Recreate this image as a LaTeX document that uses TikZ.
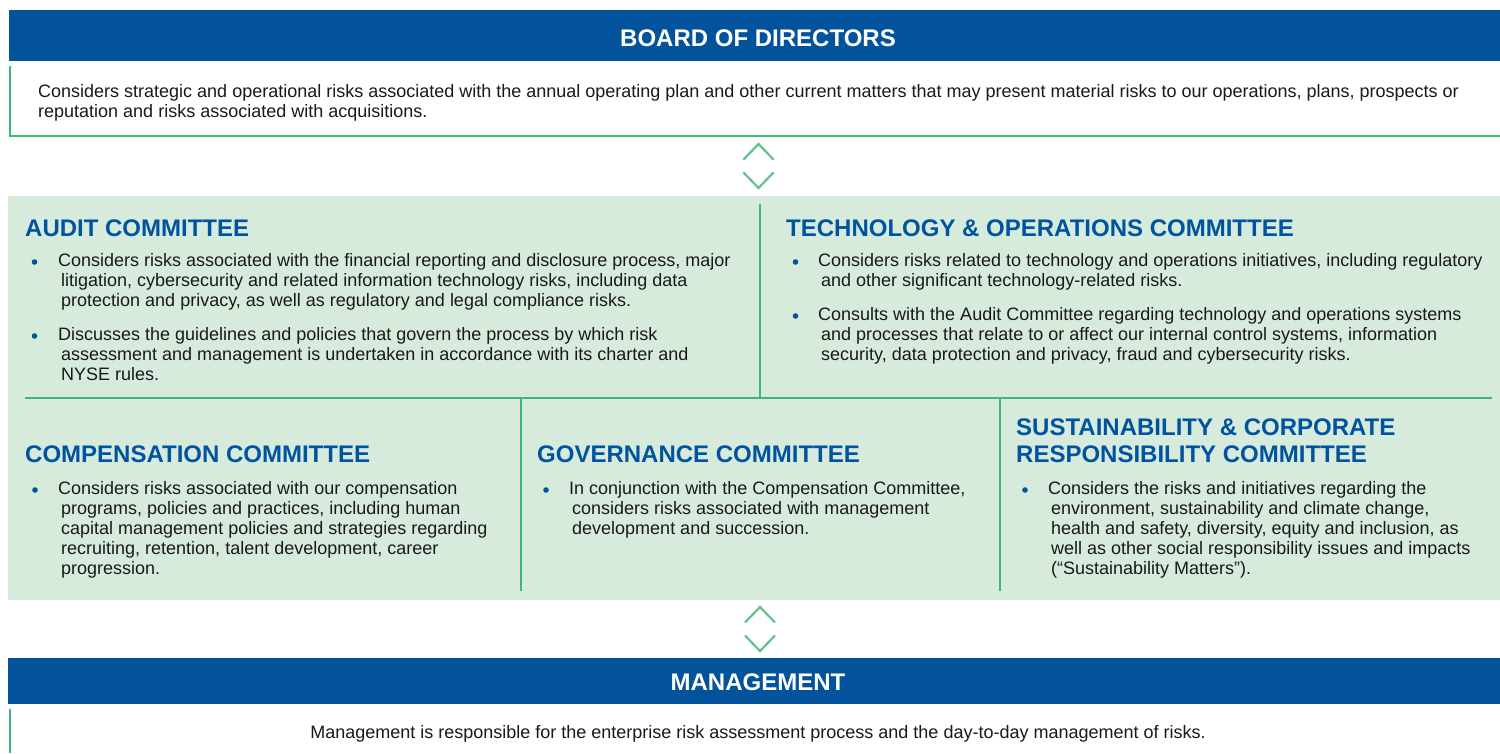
\documentclass[tikz,border=0pt]{standalone}
\usepackage{fontspec}
\setmainfont{Liberation Sans}
\definecolor{bannerblue}{RGB}{2,83,155}
\definecolor{hblue}{RGB}{0,84,159}
\definecolor{gline}{RGB}{60,184,120}
\definecolor{panel}{RGB}{215,235,221}
\definecolor{chev}{RGB}{100,192,142}
\definecolor{txt}{RGB}{25,25,25}
\begin{document}
\begin{tikzpicture}[x=1pt,y=-1pt,
  body/.style={anchor=base west, inner sep=0pt, align=left, font=\fontsize{18}{20}\selectfont, text=txt},
  head/.style={anchor=base west, inner sep=0pt, align=left, font=\fontsize{24}{27}\selectfont\bfseries, text=hblue},
  bannertext/.style={anchor=base, inner sep=0pt, font=\fontsize{24}{27}\selectfont\bfseries, text=white},
  bdot/.style={circle, fill=hblue, inner sep=0pt, minimum size=5.6pt},
  gl/.style={draw=gline, line width=2pt},
  chevron/.style={draw=chev, line width=2.2pt, line cap=round, line join=miter}
]
\useasboundingbox (0,0) rectangle (1500,753);
\fill[white] (0,0) rectangle (1500,753);

% Board of directors
\fill[bannerblue] (9,10) rectangle (1500,61);
\node[bannertext] (boardtitle) at (758,46) {BOARD OF DIRECTORS};
\draw[gl] (10,66) -- (10,136) -- (1500,136);
% base anchor = baseline of the last line
\node[body] (boardtext) at (38,117.5) {Considers strategic and operational risks associated with the annual operating plan and other current matters that may present material risks to our operations, plans, prospects or\\reputation and risks associated with acquisitions.};

% chevrons top
\coordinate (c1a) at (744,159); \coordinate (c1b) at (758.5,144); \coordinate (c1c) at (773,159);
\coordinate (c2a) at (744,173); \coordinate (c2b) at (758.5,188); \coordinate (c2c) at (773,173);
\draw[chevron] (c1a) -- (c1b) -- (c1c);
\draw[chevron] (c2a) -- (c2b) -- (c2c);

% committees panel
\fill[panel] (8,196) rectangle (1500,600);
\draw[gl] (760,204) -- (760,398);
\draw[gl] (25,398) -- (1492,398);
\draw[gl] (521,398) -- (521,591);
\draw[gl] (1000,398) -- (1000,591);

% Audit
\node[head] (audith) at (25,236) {AUDIT COMMITTEE};
\node[bdot] (auditd1) at (34.5,262) {};
\node[body] (auditb1) at (61,306) {\hspace*{-3pt}Considers risks associated with the financial reporting and disclosure process, major\\litigation, cybersecurity and related information technology risks, including data\\protection and privacy, as well as regulatory and legal compliance risks.};
\node[bdot] (auditd2) at (34.5,336) {};
\node[body] (auditb2) at (61,380) {\hspace*{-3pt}Discusses the guidelines and policies that govern the process by which risk\\assessment and management is undertaken in accordance with its charter and\\NYSE rules.};

% Technology
\node[head] (techh) at (786,236) {TECHNOLOGY \& OPERATIONS COMMITTEE};
\node[bdot] (techd1) at (795.5,262) {};
\node[body] (techb1) at (821,286) {\hspace*{-3pt}Considers risks related to technology and operations initiatives, including regulatory\\and other significant technology-related risks.};
\node[bdot] (techd2) at (795.5,316) {};
\node[body] (techb2) at (821,360) {\hspace*{-3pt}Consults with the Audit Committee regarding technology and operations systems\\and processes that relate to or affect our internal control systems, information\\security, data protection and privacy, fraud and cybersecurity risks.};

% Compensation
\node[head] (comph) at (25,462) {COMPENSATION COMMITTEE};
\node[bdot] (compd) at (35,490) {};
\node[body] (compb) at (61,574) {\hspace*{-3pt}Considers risks associated with our compensation\\programs, policies and practices, including human\\capital management policies and strategies regarding\\recruiting, retention, talent development, career\\progression.};

% Governance
\node[head] (govh) at (537,462) {GOVERNANCE COMMITTEE};
\node[bdot] (govd) at (546,490) {};
\node[body] (govb) at (572,534) {\hspace*{-3pt}In conjunction with the Compensation Committee,\\considers risks associated with management\\development and succession.};

% Sustainability
\node[head] (susth) at (1016,462) {SUSTAINABILITY \& CORPORATE\\RESPONSIBILITY COMMITTEE};
\node[bdot] (sustd) at (1025,490) {};
\node[body] (sustb) at (1051,574) {\hspace*{-3pt}Considers the risks and initiatives regarding the\\environment, sustainability and climate change,\\health and safety, diversity, equity and inclusion, as\\well as other social responsibility issues and impacts\\(“Sustainability Matters”).};

% chevrons bottom
\coordinate (c3a) at (745.5,622); \coordinate (c3b) at (760,607); \coordinate (c3c) at (774.5,622);
\coordinate (c4a) at (745.5,636); \coordinate (c4b) at (760,651); \coordinate (c4c) at (774.5,636);
\draw[chevron] (c3a) -- (c3b) -- (c3c);
\draw[chevron] (c4a) -- (c4b) -- (c4c);

% Management
\fill[bannerblue] (8,658) rectangle (1500,704);
\node[bannertext] (mgmttitle) at (758,690) {MANAGEMENT};
\draw[gl] (10,709) -- (10,753);
\node[body, anchor=base] (mgmttext) at (758,738) {Management is responsible for the enterprise risk assessment process and the day-to-day management of risks.};
\end{tikzpicture}
\end{document}
